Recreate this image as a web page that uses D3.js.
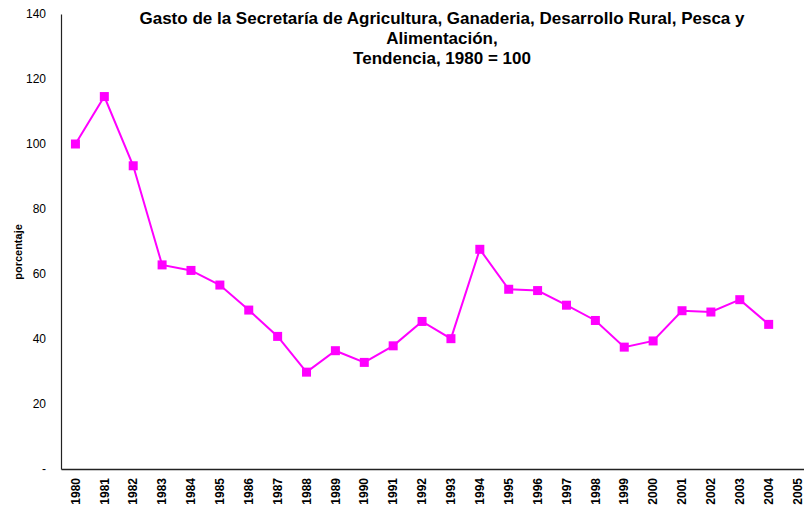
<!DOCTYPE html>
<html>
<head>
<meta charset="utf-8">
<script src="https://cdn.jsdelivr.net/npm/d3@7"></script>
<style>
  body { margin: 0; background: #fff; }
  svg { display: block; font-family: "Liberation Sans", Arial, sans-serif; }
</style>
</head>
<body>
<script>
var years = ['1980','1981','1982','1983','1984','1985','1986','1987','1988','1989','1990','1991','1992',
  '1993','1994','1995','1996','1997','1998','1999','2000','2001','2002','2003','2004','2005'];
var values = [100, 114.6, 93.3, 62.8, 61.1, 56.6, 48.9, 40.8, 29.8, 36.4, 32.8, 37.9, 45.4,
  40.1, 67.6, 55.3, 54.9, 50.4, 45.7, 37.5, 39.4, 48.7, 48.3, 52.1, 44.5, null];
var yTicks = [0, 20, 40, 60, 80, 100, 120, 140];
var titleLines = ['Gasto de la Secretaría de Agricultura, Ganaderia, Desarrollo Rural, Pesca y',
  'Alimentación,', 'Tendencia, 1980 = 100'];

var svg = d3.select('body').append('svg')
  .attr('width', 804)
  .attr('height', 507);

var margin = { top: 14, left: 61, bottom: 38 },
  height = 507 - margin.top - margin.bottom;

var x = d3.scaleBand()
  .domain(years)
  .range([margin.left, 812]);

var y = d3.scaleLinear()
  .domain([0, 140])
  .range([margin.top + height, margin.top]);

var cx = function(d) { return x(d) + x.bandwidth() / 2; };

// y axis
var yAxis = svg.append('g')
  .attr('transform', 'translate(' + margin.left + ',0)')
  .call(d3.axisLeft(y).tickValues(yTicks).tickSize(0).tickPadding(15)
    .tickFormat(function(d) { return d === 0 ? '-' : d; }));
yAxis.select('.domain').attr('stroke', '#222').attr('stroke-width', 1.2);
yAxis.selectAll('text').style('font-size', '12px').attr('fill', '#000');

// x axis
var xAxis = svg.append('g')
  .attr('transform', 'translate(0,' + (margin.top + height) + ')')
  .call(d3.axisBottom(x).tickSize(0).tickSizeOuter(0));
xAxis.select('.domain').attr('stroke', '#222').attr('stroke-width', 1.5);
xAxis.selectAll('text')
  .style('font-size', '12px')
  .style('font-weight', 'bold')
  .attr('fill', '#000')
  .attr('transform', 'rotate(-90)')
  .attr('text-anchor', 'end')
  .attr('x', -9)
  .attr('y', 0)
  .attr('dy', '0.35em');

// y label
svg.append('text')
  .attr('transform', 'rotate(-90)')
  .attr('x', -252)
  .attr('y', 22)
  .attr('text-anchor', 'middle')
  .style('font-size', '11px')
  .style('font-weight', 'bold')
  .text('porcentaje');

// title
svg.append('g').selectAll('text')
  .data(titleLines)
  .enter().append('text')
  .attr('x', 442)
  .attr('y', function(d, i) { return 24 + i * 20; })
  .attr('text-anchor', 'middle')
  .style('font-size', '17px')
  .style('font-weight', 'bold')
  .text(function(d) { return d; });

// series
var pts = years.map(function(d, i) { return { year: d, v: values[i] }; })
  .filter(function(d) { return d.v !== null; });

svg.append('path')
  .datum(pts)
  .attr('fill', 'none')
  .attr('stroke', '#ff00ff')
  .attr('stroke-width', 2)
  .attr('d', d3.line()
    .x(function(d) { return cx(d.year); })
    .y(function(d) { return y(d.v); }));

svg.selectAll('rect.pt')
  .data(pts)
  .enter().append('rect')
  .attr('class', 'pt')
  .attr('x', function(d) { return cx(d.year) - 4.5; })
  .attr('y', function(d) { return y(d.v) - 4.5; })
  .attr('width', 9)
  .attr('height', 9)
  .attr('fill', '#ff00ff');
</script>
</body>
</html>
